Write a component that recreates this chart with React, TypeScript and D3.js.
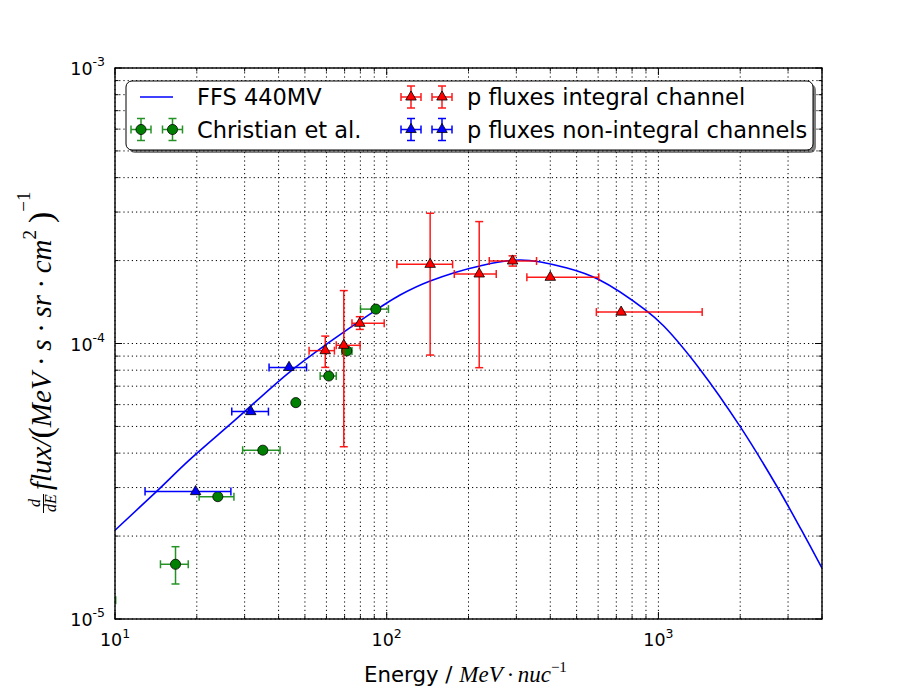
import { useMemo } from "react";
import * as d3 from "d3";

const WIDTH = 913;
const HEIGHT = 689;
const MARGIN = { top: 68, right: 91, bottom: 70, left: 115 };

// FFS 440MV model curve
const ffsEnergy = [10, 14.2, 18.8, 27.7, 43.9, 61.9, 94.6, 112, 144.5, 222, 310, 461, 603, 895, 1046, 1428, 2000, 2735, 3363, 4000];
const ffsFlux = [2.1e-5, 2.9e-5, 3.78e-5, 5.28e-5, 7.88e-5, 1.015e-4, 1.353e-4, 1.5e-4, 1.686e-4, 1.916e-4, 2.01e-4, 1.88e-4, 1.707e-4, 1.324e-4, 1.157e-4, 8.02e-5, 4.99e-5, 3.02e-5, 2.1e-5, 1.53e-5];

// Christian et al.
const chrEnergy = [8.6, 16.7, 23.9, 35.0, 46.3, 61.2, 71.3, 91.2];
const chrFlux = [1.17e-5, 1.58e-5, 2.78e-5, 4.1e-5, 6.1e-5, 7.62e-5, 9.4e-5, 1.333e-4];
const chrELow = [7.4, 14.7, 20.4, 29.5, 46.3, 56.9, 68.4, 80.1];
const chrEHigh = [10.06, 18.6, 27.4, 40.5, 46.3, 65.2, 74.5, 101.5];
const chrFluxLow = [1.17e-5, 1.34e-5, 2.78e-5, 4.1e-5, 6.1e-5, 7.62e-5, 9.4e-5, 1.333e-4];
const chrFluxHigh = [1.17e-5, 1.83e-5, 2.78e-5, 4.1e-5, 6.1e-5, 7.62e-5, 9.4e-5, 1.333e-4];

// p fluxes integral channel
const intEnergy = [59.4, 69.5, 79.6, 144.5, 219, 290.6, 400, 729];
const intFlux = [9.42e-5, 9.85e-5, 1.184e-4, 1.938e-4, 1.788e-4, 1.993e-4, 1.739e-4, 1.3e-4];
const intELow = [51.8, 65.2, 74.5, 109.0, 177.3, 238.5, 328, 591];
const intEHigh = [64.2, 79.8, 97.9, 174.8, 253, 356, 603, 1449];
const intFluxLow = [8.19e-5, 4.22e-5, 1.125e-4, 9.08e-5, 8.17e-5, 1.91e-4, 1.739e-4, 1.3e-4];
const intFluxHigh = [1.064e-4, 1.556e-4, 1.251e-4, 2.97e-4, 2.77e-4, 2.08e-4, 1.739e-4, 1.3e-4];

// p fluxes non-integral channels
const nonEnergy = [19.8, 31.6, 43.7];
const nonFlux = [2.9e-5, 5.66e-5, 8.19e-5];
const nonELow = [12.9, 26.9, 36.9];
const nonEHigh = [26.7, 36.7, 50.7];

const X_DOMAIN = [10, 4000];
const Y_DOMAIN = [1e-5, 1e-3];
const xTickLabels = [
  { v: 10, exp: "1" },
  { v: 100, exp: "2" },
  { v: 1000, exp: "3" },
];
const yTickLabels = [
  { v: 1e-5, exp: "-5" },
  { v: 1e-4, exp: "-4" },
  { v: 1e-3, exp: "-3" },
];

const SANS = "DejaVu Sans, sans-serif";
const SERIF = "Liberation Serif, DejaVu Serif, serif";
const DOT = "\u2005·\u2005";

type Series = {
  e: number[];
  f: number[];
  eLo: number[];
  eHi: number[];
  fLo: number[];
  fHi: number[];
  color: string;
  barOpacity: number;
  fill: string;
  marker: d3.SymbolType;
  size: number;
};

const isMajor = (t: number) => Math.abs(Math.log10(t) - Math.round(Math.log10(t))) < 1e-6;

const ErrorBars = ({ s, x, y }: { s: Series; x: (v: number) => number; y: (v: number) => number }) => {
  const sym = d3.symbol().type(s.marker).size(s.size)() || "";
  const cap = 4;
  return (
    <g>
      {s.e.map((e, i) => {
        const cx = x(e);
        const cy = y(s.f[i]);
        const x0 = x(s.eLo[i]);
        const x1 = x(s.eHi[i]);
        const y0 = y(s.fLo[i]);
        const y1 = y(s.fHi[i]);
        return (
          <g key={i} stroke={s.color} strokeWidth={1.5} opacity={s.barOpacity}>
            {x1 - x0 > 0.5 && (
              <>
                <line x1={x0} x2={x1} y1={cy} y2={cy} />
                <line x1={x0} x2={x0} y1={cy - cap} y2={cy + cap} />
                <line x1={x1} x2={x1} y1={cy - cap} y2={cy + cap} />
              </>
            )}
            {y0 - y1 > 0.5 && (
              <>
                <line x1={cx} x2={cx} y1={y1} y2={y0} />
                <line x1={cx - cap} x2={cx + cap} y1={y1} y2={y1} />
                <line x1={cx - cap} x2={cx + cap} y1={y0} y2={y0} />
              </>
            )}
          </g>
        );
      })}
      {s.e.map((e, i) => (
        <path
          key={"m" + i}
          d={sym}
          transform={`translate(${x(e)},${y(s.f[i])})`}
          fill={s.fill}
          stroke="#000"
          strokeWidth={0.8}
        />
      ))}
    </g>
  );
};

const LegendHandle = ({ cx, cy, s }: { cx: number; cy: number; s: Series }) => {
  const sym = d3.symbol().type(s.marker).size(s.size)() || "";
  return (
    <g>
      <g stroke={s.color} strokeWidth={1.5} opacity={s.barOpacity}>
        <line x1={cx - 10} x2={cx + 10} y1={cy} y2={cy} />
        <line x1={cx - 10} x2={cx - 10} y1={cy - 4} y2={cy + 4} />
        <line x1={cx + 10} x2={cx + 10} y1={cy - 4} y2={cy + 4} />
        <line x1={cx} x2={cx} y1={cy - 11} y2={cy + 11} />
        <line x1={cx - 4} x2={cx + 4} y1={cy - 11} y2={cy - 11} />
        <line x1={cx - 4} x2={cx + 4} y1={cy + 11} y2={cy + 11} />
      </g>
      <path d={sym} transform={`translate(${cx},${cy})`} fill={s.fill} stroke="#000" strokeWidth={0.8} />
    </g>
  );
};

export default function App() {
  const left = MARGIN.left;
  const right = WIDTH - MARGIN.right;
  const top = MARGIN.top;
  const bottom = HEIGHT - MARGIN.bottom;

  const xScale = useMemo(() => d3.scaleLog().domain(X_DOMAIN).range([left, right]), []);
  const yScale = useMemo(() => d3.scaleLog().domain(Y_DOMAIN).range([bottom, top]), []);

  const xTicks = xScale.ticks();
  const yTicks = yScale.ticks();

  const curve = d3
    .line<number>()
    .x((e) => xScale(e))
    .y((_, i) => yScale(ffsFlux[i]))
    .curve(d3.curveCatmullRom.alpha(0.5))(ffsEnergy);

  const christian: Series = {
    e: chrEnergy, f: chrFlux, eLo: chrELow, eHi: chrEHigh, fLo: chrFluxLow, fHi: chrFluxHigh,
    color: "#008000", barOpacity: 0.85, fill: "#008000", marker: d3.symbolCircle, size: 80,
  };
  const integral: Series = {
    e: intEnergy, f: intFlux, eLo: intELow, eHi: intEHigh, fLo: intFluxLow, fHi: intFluxHigh,
    color: "#ff0000", barOpacity: 0.9, fill: "#ff0000", marker: d3.symbolTriangle, size: 48,
  };
  const nonIntegral: Series = {
    e: nonEnergy, f: nonFlux, eLo: nonELow, eHi: nonEHigh, fLo: nonFlux, fHi: nonFlux,
    color: "#0000ff", barOpacity: 1, fill: "#0000ff", marker: d3.symbolTriangle, size: 48,
  };

  return (
    <div style={{ position: "absolute", left: 0, top: 0 }}>
      <svg width={WIDTH} height={HEIGHT} style={{ display: "block", background: "#fff" }}>
        <defs>
          <clipPath id="plot-clip">
            <rect x={left} y={top} width={right - left} height={bottom - top} />
          </clipPath>
        </defs>
        <rect x={0} y={0} width={WIDTH} height={HEIGHT} fill="#fff" />

        {/* grid */}
        <g stroke="#000" strokeWidth={1} strokeDasharray="1.2,3">
          {xTicks.map((t) => (
            <line key={"gx" + t} x1={xScale(t)} x2={xScale(t)} y1={top} y2={bottom} />
          ))}
          {yTicks.map((t) => (
            <line key={"gy" + t} x1={left} x2={right} y1={yScale(t)} y2={yScale(t)} />
          ))}
        </g>

        {/* data */}
        <g clipPath="url(#plot-clip)">
          <path d={curve || ""} fill="none" stroke="#0000ff" strokeWidth={1.6} />
          <ErrorBars s={christian} x={xScale} y={yScale} />
          <ErrorBars s={integral} x={xScale} y={yScale} />
          <ErrorBars s={nonIntegral} x={xScale} y={yScale} />
        </g>

        {/* ticks, inside on all sides */}
        <g stroke="#000" strokeWidth={1}>
          {xTicks.map((t) => {
            const len = isMajor(t) ? 7 : 3.5;
            const px = xScale(t);
            return (
              <g key={"tx" + t}>
                <line x1={px} x2={px} y1={bottom} y2={bottom - len} />
                <line x1={px} x2={px} y1={top} y2={top + len} />
              </g>
            );
          })}
          {yTicks.map((t) => {
            const len = isMajor(t) ? 7 : 3.5;
            const py = yScale(t);
            return (
              <g key={"ty" + t}>
                <line x1={left} x2={left + len} y1={py} y2={py} />
                <line x1={right} x2={right - len} y1={py} y2={py} />
              </g>
            );
          })}
        </g>

        {/* spines */}
        <rect x={left} y={top} width={right - left} height={bottom - top} fill="none" stroke="#000" strokeWidth={1.4} />

        {/* tick labels */}
        <g fontFamily={SANS} fill="#000">
          {xTickLabels.map((d) => (
            <text key={"lx" + d.v} x={xScale(d.v)} y={bottom + 27} textAnchor="middle" fontSize={17.5}>
              10<tspan fontSize={12.5} dy={-8}>{d.exp}</tspan>
            </text>
          ))}
          {yTickLabels.map((d) => (
            <text key={"ly" + d.v} x={left - 10} y={yScale(d.v) + 7} textAnchor="end" fontSize={17.5}>
              10<tspan fontSize={12.5} dy={-9}>{d.exp}</tspan>
            </text>
          ))}
        </g>

        {/* x label */}
        <text x={364} y={682} fontFamily={SANS} fontSize={21.3} fill="#000">
          Energy /{" "}
          <tspan fontFamily={SERIF} fontStyle="italic" fontSize={23}>
            MeV{"\u2009·\u2009"}nuc
          </tspan>
          <tspan fontFamily={SERIF} fontSize={15} dy={-10}>−1</tspan>
        </text>

        {/* y label */}
        <g transform="translate(51,347) rotate(-90)" fontFamily={SERIF} fill="#000">
          <text x={-156} y={-11} fontSize={16} fontStyle="italic" textAnchor="middle">d</text>
          <line x1={-166} x2={-147} y1={-7.5} y2={-7.5} stroke="#000" strokeWidth={1} />
          <text x={-156} y={4.5} fontSize={16} fontStyle="italic" textAnchor="middle">dE</text>
          <text x={-143} y={0} fontSize={29} fontStyle="italic">
            flux/
            <tspan fontStyle="normal" fontSize={34} dy={1}>(</tspan>
            <tspan dy={-1}>MeV{DOT}s{DOT}sr{DOT}cm</tspan>
            <tspan fontStyle="normal" fontSize={19} dy={-15}>2</tspan>
            <tspan fontStyle="normal" fontSize={34} dy={16}>{"\u2009"})</tspan>
            <tspan fontStyle="normal" fontSize={19} dy={-22}>−1</tspan>
          </text>
        </g>

        {/* legend */}
        <g>
          <rect x={129} y={84} width={687} height={69} rx={6} fill="#000" opacity={0.5} />
          <rect x={126} y={81} width={687} height={69} rx={6} fill="#fff" stroke="#000" strokeWidth={1} />
          <line x1={140} x2={173} y1={97} y2={97} stroke="#0000ff" strokeWidth={1.6} />
          <LegendHandle cx={141} cy={129.5} s={christian} />
          <LegendHandle cx={172.5} cy={129.5} s={christian} />
          <LegendHandle cx={411} cy={97} s={integral} />
          <LegendHandle cx={442} cy={97} s={integral} />
          <LegendHandle cx={411} cy={129.5} s={nonIntegral} />
          <LegendHandle cx={442} cy={129.5} s={nonIntegral} />
          <g fontFamily={SANS} fontSize={22.5} fill="#000">
            <text x={197} y={105}>FFS 440MV</text>
            <text x={197} y={137.5}>Christian et al.</text>
            <text x={467} y={105}>p fluxes integral channel</text>
            <text x={467} y={137.5}>p fluxes non-integral channels</text>
          </g>
        </g>
      </svg>
    </div>
  );
}
